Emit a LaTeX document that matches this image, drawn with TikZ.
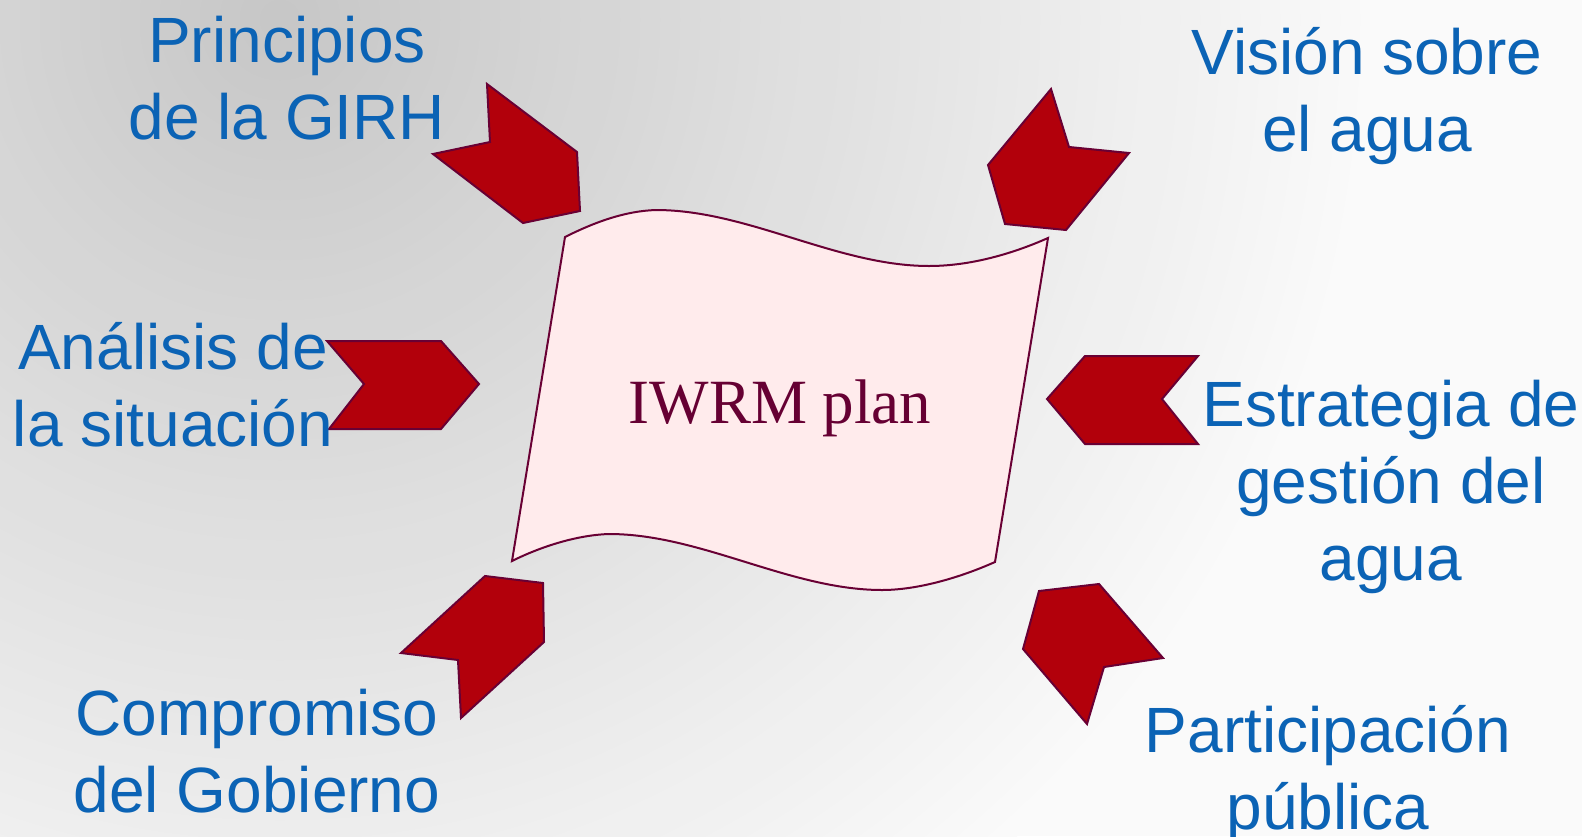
\documentclass[tikz,border=0pt]{standalone}
\usepackage{fontspec}
\setmainfont{Liberation Sans}
\newfontfamily\planfont{Liberation Serif}
\definecolor{topicblue}{RGB}{11,99,181}
\definecolor{arrowred}{RGB}{178,0,11}
\definecolor{edgewine}{RGB}{105,0,52}
\definecolor{flagpink}{RGB}{255,235,236}
\definecolor{planwine}{RGB}{102,0,51}
\definecolor{bgdark}{RGB}{199,199,199}
\definecolor{bglight}{RGB}{250,250,250}
\tikzset{
    topic/.style={text=topicblue, align=center, anchor=base, inner sep=0pt,
        font=\fontsize{64}{76.6}\selectfont},
    chevron/.style={fill=arrowred, draw=edgewine, line width=2pt, line join=miter},
    flag/.style={fill=flagpink, draw=edgewine, line width=2pt},
}
\begin{document}
\begin{tikzpicture}[x=1pt, y=-1pt]
    \useasboundingbox (0,0) rectangle (1582,836);
    \begin{scope}
        \clip (0,0) rectangle (1582,836);
        \fill[bglight] (0,0) rectangle (1582,836);
        \foreach \i [evaluate=\i as \p using int(100*\i/55)] in {55,54,...,0}
            \fill[bglight!\p!bgdark] (280,20) circle (20*\i);
    \end{scope}

    \draw[flag] (565,237) .. controls (595,222) and (625,211) .. (656,210)
        .. controls (748,210) and (837,266) .. (929,266)
        .. controls (970,266) and (1012,254) .. (1048,238)
        -- (995,562)
        .. controls (959,578) and (917,590) .. (882,590)
        .. controls (790,590) and (701,534) .. (609,534)
        .. controls (578,535) and (542,546) .. (512,561) -- cycle;
    \node[text=planwine, anchor=base, inner sep=0pt,
        font=\planfont\fontsize{63}{70}\selectfont] (plan) at (780,423) {IWRM plan};

    \draw[chevron] (487,84) -- (577,152) -- (580,211) -- (523,223) -- (433,154) -- (490,142) -- cycle;
    \draw[chevron] (1051,89) -- (1069,147) -- (1129,153) -- (1066,230) -- (1005,224) -- (988,165) -- cycle;
    \draw[chevron] (327,341) -- (441,341) -- (479,384) -- (441,429) -- (329,429) -- (364,384) -- cycle;
    \draw[chevron] (1085,356) -- (1198,356) -- (1162,399) -- (1198,444) -- (1085,444) -- (1047,399) -- cycle;
    \draw[chevron] (485,576) -- (543,583) -- (544,642) -- (461,718) -- (458,660) -- (401,653) -- cycle;
    \draw[chevron] (1039,591) -- (1099,584) -- (1163,658) -- (1104,667) -- (1087,724) -- (1023,649) -- cycle;

    \node[topic] (1) at (287,139) {Principios\\de la GIRH};
    \node[topic] (2) at (1367,151) {Visión sobre\\el agua};
    \node[topic] (3) at (173,446) {Análisis de\\la situación};
    \node[topic] (4) at (1391,580) {Estrategia de\\gestión del\\agua};
    \node[topic] (5) at (257,812) {Compromiso\\del Gobierno};
    \node[topic] (6) at (1328,829) {Participación\\pública};
\end{tikzpicture}
\end{document}
